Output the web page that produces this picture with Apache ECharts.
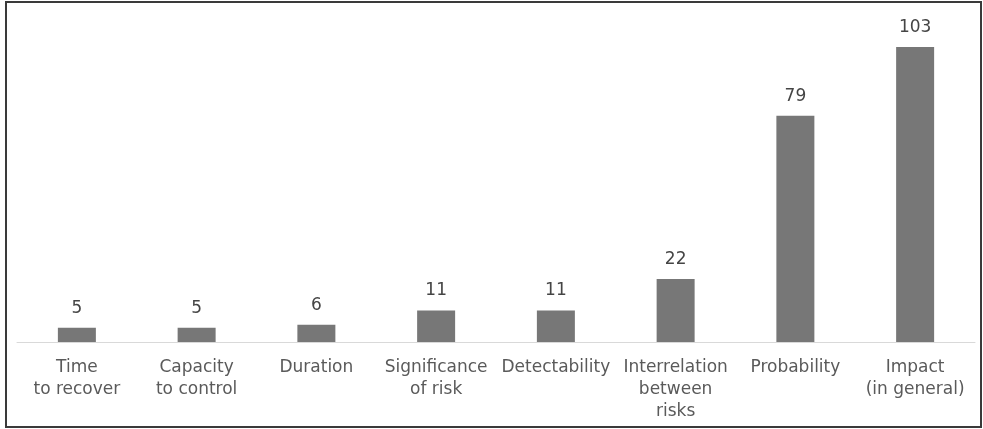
<!DOCTYPE html>
<html><head><meta charset="utf-8">
<script src="https://cdn.jsdelivr.net/npm/echarts@6/dist/echarts.min.js"></script>
<style>html,body{margin:0;padding:0;background:#fff}#c{width:983px;height:429px}</style>
</head><body><div id="c"></div>
<script>
const categories = ["Time\nto recover","Capacity\nto control","Duration","Significance\nof risk","Detectability","Interrelation\nbetween\nrisks","Probability","Impact\n(in general)"];
const values = [5,5,6,11,11,22,79,103];
const chart = echarts.init(document.getElementById('c'));
chart.setOption({
  animation:false,
  backgroundColor:'#fff',
  graphic:[{type:'rect',shape:{x:6,y:2,width:975,height:425},style:{fill:'none',stroke:'#3a3a3a',lineWidth:2},z:100}],
  grid:{left:17,right:8,top:27,bottom:87},
  xAxis:{type:'category',data:categories,
    axisLine:{lineStyle:{color:'#d9d9d9',width:1}},axisTick:{show:false},
    axisLabel:{interval:0,color:'#5a5a5a',fontFamily:'DejaVu Sans',fontSize:17,lineHeight:22,margin:15}},
  yAxis:{type:'value',min:0,max:110,show:false,splitLine:{show:false}},
  series:[{type:'bar',data:values,barWidth:38,itemStyle:{color:'#777777'},
    label:{show:true,position:'top',distance:11,color:'#454545',fontFamily:'DejaVu Sans',fontSize:17}}]
});
</script></body></html>
